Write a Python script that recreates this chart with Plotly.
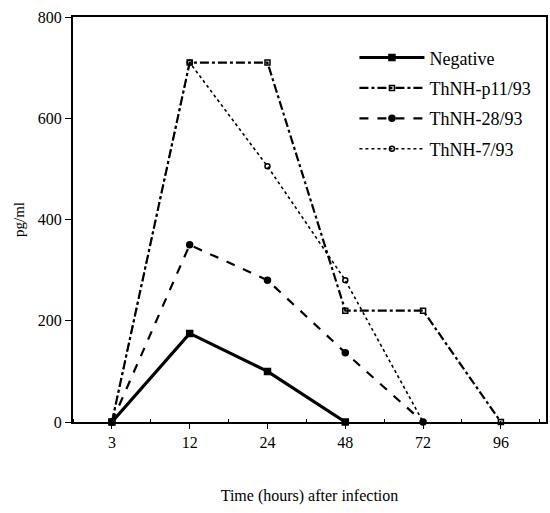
import plotly.graph_objects as go

categories = ["3", "12", "24", "48", "72", "96"]
neg = [0, 175, 100, 0, None, None]
p11 = [0, 710, 710, 220, 220, 0]
t28 = [0, 350, 280, 137, 0, None]
t7 = [0, 710, 505, 280, 0, None]

xi = list(range(len(categories)))

def trace(name, y, dash, width, symbol, size):
    xs = [x for x, v in zip(xi, y) if v is not None]
    ys = [v for v in y if v is not None]
    return go.Scatter(x=xs, y=ys, name=name, mode="lines+markers", legendgroup=name,
                      line=dict(color="black", width=width, dash=dash),
                      marker=dict(symbol=symbol, size=size, color="black",
                                  line=dict(color="black", width=1.5)),
                      cliponaxis=False)

fig = go.Figure()
fig.add_trace(trace("Negative", neg, "solid", 3.2, "square", 6))
fig.add_trace(trace("ThNH-p11/93", p11, "dashdot", 2.2, "square-open", 5))
fig.add_trace(trace("ThNH-28/93", t28, "dash", 2.2, "circle", 6))
fig.add_trace(trace("ThNH-7/93", t7, "dot", 1.6, "circle-open", 5))

font = dict(family="Liberation Serif, Times New Roman, serif", color="black")
fig.update_layout(
    width=550, height=513,
    margin=dict(l=73, r=2, t=17, b=91),
    paper_bgcolor="white", plot_bgcolor="white",
    font=dict(**font, size=16),
    showlegend=True,
    legend=dict(x=0.595, y=0.945, xanchor="left", yanchor="top",
                font=dict(**font, size=18), bgcolor="rgba(0,0,0,0)",
                itemwidth=65, tracegroupgap=4, traceorder="grouped"),
    xaxis=dict(range=[-0.5, 5.58], tickmode="array", tickvals=xi, ticktext=categories,
               showgrid=False, zeroline=False, showline=True, linecolor="black", linewidth=2,
               mirror=True, ticks="outside", ticklen=5, tickcolor="black",
               minor=dict(tickvals=[i + 0.5 for i in range(-1, 6)], ticks="inside", ticklen=3, tickcolor="black"),
               title=dict(text="Time (hours) after infection", font=dict(**font, size=16), standoff=40),
               tickfont=dict(**font, size=16)),
    yaxis=dict(range=[0, 800], tickvals=[0, 200, 400, 600, 800],
               showgrid=False, zeroline=False, showline=True, linecolor="black", linewidth=2,
               mirror=True, ticks="outside", ticklen=6, tickcolor="black",
               title=dict(text="pg/ml", font=dict(**font, size=15), standoff=10),
               tickfont=dict(**font, size=16)),
)

fig.write_html("out.html")
